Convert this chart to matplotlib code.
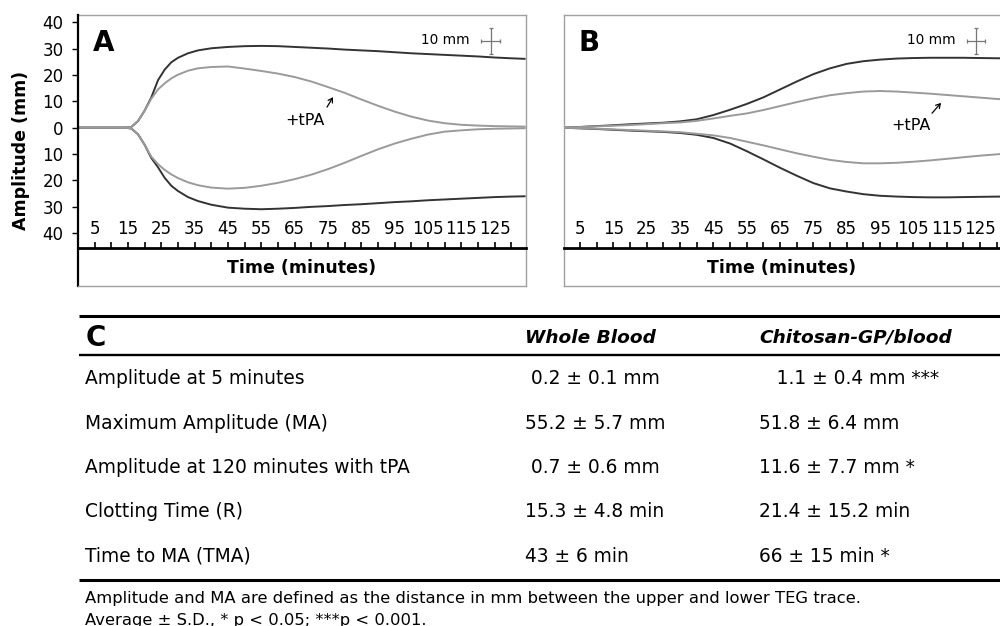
import matplotlib
matplotlib.use('Agg')
import matplotlib.pyplot as plt

# TEG traces, panel A (whole blood), time in minutes, amplitude in mm
time_a = [0, 14, 16, 18, 20, 22, 24, 26, 28, 30, 33, 36, 40, 45, 50, 55, 60, 65,
          70, 75, 80, 85, 90, 95, 100, 105, 110, 115, 120, 125, 130, 134]
wb_upper = [0, 0, 0.3, 2.5, 6.5, 11.5, 18, 22, 24.8, 26.5, 28.2, 29.3, 30.1, 30.6,
            30.9, 31.0, 30.9, 30.6, 30.3, 30.0, 29.6, 29.3, 29.0, 28.6, 28.2, 27.9,
            27.6, 27.3, 27.0, 26.6, 26.3, 26.1]
wb_lower = [0, 0, -0.3, -2.5, -6.5, -11.5, -15, -19, -22, -24, -26.3, -27.8, -29.2,
            -30.3, -30.7, -30.9, -30.7, -30.4, -30.0, -29.7, -29.3, -29.0, -28.6,
            -28.2, -27.9, -27.5, -27.2, -26.9, -26.6, -26.3, -26.1, -26.0]
wb_tpa_upper = [0, 0, 0.3, 2.5, 6.5, 11, 14.5, 16.8, 18.7, 20.1, 21.6, 22.5, 23.0,
                23.2, 22.4, 21.5, 20.5, 19.2, 17.5, 15.4, 13.2, 10.7, 8.3, 6.1, 4.2,
                2.7, 1.7, 1.1, 0.8, 0.6, 0.5, 0.4]
wb_tpa_lower = [0, 0, -0.3, -2.5, -6.5, -11, -13.8, -16, -17.7, -19.1, -20.7, -21.8,
                -22.7, -23.1, -22.8, -22.0, -20.9, -19.5, -17.8, -15.7, -13.3, -10.7,
                -8.2, -6.0, -4.2, -2.6, -1.5, -1.0, -0.6, -0.4, -0.3, -0.2]

# panel B (chitosan-GP/blood)
time_b = [0, 10, 20, 30, 35, 40, 45, 50, 55, 60, 65, 70, 75, 80, 85, 90, 95, 100,
          105, 110, 115, 120, 125, 131]
cgp_upper = [0, 0.6, 1.3, 1.9, 2.4, 3.2, 4.8, 6.8, 9.0, 11.5, 14.5, 17.5, 20.3, 22.5,
             24.2, 25.2, 25.8, 26.2, 26.4, 26.5, 26.5, 26.5, 26.4, 26.3]
cgp_lower = [0, -0.5, -1.1, -1.6, -2.0, -2.7, -3.9, -6.0, -8.9, -12.0, -15.2, -18.2,
             -21.0, -23.0, -24.2, -25.2, -25.8, -26.1, -26.3, -26.4, -26.4, -26.3,
             -26.2, -26.1]
cgp_tpa_upper = [0, 0.5, 1.0, 1.7, 2.0, 2.6, 3.5, 4.5, 5.4, 6.7, 8.2, 9.7, 11.1, 12.3,
                 13.1, 13.7, 13.9, 13.7, 13.3, 12.9, 12.4, 11.9, 11.4, 10.8]
cgp_tpa_lower = [0, -0.4, -0.9, -1.4, -1.7, -2.3, -2.9, -3.9, -5.3, -6.7, -8.2, -9.7,
                 -11.0, -12.2, -13.0, -13.5, -13.5, -13.3, -12.9, -12.4, -11.8, -11.2,
                 -10.6, -10.0]

ytick_pos = [40, 30, 20, 10, 0, -10, -20, -30, -40]
ytick_labels = ['40', '30', '20', '10', '0', '10', '20', '30', '40']
xtick_major = [5, 15, 25, 35, 45, 55, 65, 75, 85, 95, 105, 115, 125]
xtick_minor = [10, 20, 30, 40, 50, 60, 70, 80, 90, 100, 110, 120, 130]

# table C
col_headers = ['Whole Blood', 'Chitosan-GP/blood']
row_labels = ['Amplitude at 5 minutes', 'Maximum Amplitude (MA)',
              'Amplitude at 120 minutes with tPA', 'Clotting Time (R)',
              'Time to MA (TMA)']
wb_values = [' 0.2 ± 0.1 mm', '55.2 ± 5.7 mm', ' 0.7 ± 0.6 mm', '15.3 ± 4.8 min',
             '43 ± 6 min']
cgp_values = ['   1.1 ± 0.4 mm ***', '51.8 ± 6.4 mm', '11.6 ± 7.7 mm *',
              '21.4 ± 15.2 min', '66 ± 15 min *']
footnote = ['Amplitude and MA are defined as the distance in mm between the upper and lower TEG trace.',
            'Average ± S.D., * p < 0.05; ***p < 0.001.']

dark = '#333333'
light = '#9a9a9a'
frame = '#a0a0a0'

fig = plt.figure(figsize=(10, 6.26), dpi=100)

# table axes in pixel coordinates
axt = fig.add_axes([0, 0, 1, 1])
axt.set_xlim(0, 1000)
axt.set_ylim(626, 0)
axt.axis('off')


def teg_panel(rect, t, up, lo, tup, tlo, letter, xmax, tpa_xy, arrow_from, arrow_to, left_axis):
    ax = fig.add_axes(rect)
    ax.set_xlim(0, xmax)
    ax.set_ylim(-60, 42.7)
    ax.plot(t, up, color=dark, lw=1.4)
    ax.plot(t, lo, color=dark, lw=1.4)
    ax.plot(t, tup, color=light, lw=1.4)
    ax.plot(t, tlo, color=light, lw=1.4)

    # x axis drawn as the top spine moved down, ticks and labels above it
    ax.spines['top'].set_position(('data', -45.6))
    ax.spines['top'].set_color('black')
    ax.spines['top'].set_linewidth(2)
    ax.xaxis.set_ticks_position('top')
    ax.set_xticks(xtick_major)
    ax.set_xticks(xtick_minor, minor=True)
    ax.tick_params(axis='x', which='both', direction='out', length=4, width=1.2,
                   labelsize=12, pad=3)
    ax.plot([0, 1], [1, 1], transform=ax.transAxes, color=frame, lw=1, clip_on=False)
    ax.spines['bottom'].set_color(frame)
    ax.spines['bottom'].set_linewidth(1)
    ax.spines['right'].set_color(frame)
    ax.spines['right'].set_linewidth(1)
    if left_axis:
        ax.spines['left'].set_linewidth(1.6)
        ax.set_yticks(ytick_pos)
        ax.set_yticklabels(ytick_labels)
        ax.tick_params(axis='y', direction='out', length=4.5, width=1, labelsize=12, pad=6)
        ax.set_ylabel('Amplitude (mm)', fontsize=12.5, fontweight='bold', labelpad=9)
    else:
        ax.spines['left'].set_color(frame)
        ax.spines['left'].set_linewidth(1)
        ax.spines['right'].set_visible(False)
        ax.set_yticks([])

    ax.text(0.5, 0.066, 'Time (minutes)', transform=ax.transAxes, ha='center',
            va='center', fontsize=12.5, fontweight='bold')
    ax.text(7.8, 32.1, letter, ha='center', va='center', fontsize=20, fontweight='bold')

    # 10 mm scale cross
    ax.errorbar(123.8, 32.9, xerr=2.75, yerr=4.95, color='#777777', lw=0.9,
                capsize=1.5, capthick=0.9)
    ax.text(117.6, 33.4, '10 mm', ha='right', va='center', fontsize=9.8)

    ax.text(tpa_xy[0], tpa_xy[1], '+tPA', ha='center', va='center', fontsize=11.5)
    ax.annotate('', xy=arrow_to, xytext=arrow_from,
                arrowprops=dict(arrowstyle='->,head_length=0.3,head_width=0.18',
                                lw=0.9, color='black', shrinkA=0, shrinkB=0))
    return ax


teg_panel([0.078, 0.5431, 0.448, 0.4329], time_a, wb_upper, wb_lower, wb_tpa_upper,
          wb_tpa_lower, 'A', 134.4, (68.1, 2.9), (74.7, 7.8), (76.5, 11.6), True)
teg_panel([0.5635, 0.5431, 0.4365, 0.4329], time_b, cgp_upper, cgp_lower, cgp_tpa_upper,
          cgp_tpa_lower, 'B', 131.0, (104.3, 1.0), (110.6, 5.5), (113.3, 9.4), False)

# table C
axt.plot([79, 1000], [315.5, 315.5], color='black', lw=2.2, solid_capstyle='butt')
axt.plot([79, 1000], [354.5, 354.5], color='black', lw=1.7, solid_capstyle='butt')
axt.plot([79, 1000], [579.5, 579.5], color='black', lw=2.2, solid_capstyle='butt')
axt.text(86, 346, 'C', fontsize=20, fontweight='bold', va='baseline', ha='left')
axt.text(525, 343, col_headers[0], fontsize=13.3, fontweight='bold', fontstyle='italic',
         va='baseline', ha='left')
axt.text(759, 343, col_headers[1], fontsize=13.3, fontweight='bold', fontstyle='italic',
         va='baseline', ha='left')
for i in range(len(row_labels)):
    yb = 384.5 + 44.3 * i
    axt.text(85, yb, row_labels[i], fontsize=13.4, va='baseline', ha='left')
    axt.text(525, yb, wb_values[i], fontsize=13.4, va='baseline', ha='left')
    axt.text(759, yb, cgp_values[i], fontsize=13.4, va='baseline', ha='left')
axt.text(85, 603.5, footnote[0], fontsize=11.8, va='baseline', ha='left')
axt.text(85, 624.5, footnote[1], fontsize=11.8, va='baseline', ha='left')

fig.savefig('out.png', dpi=100)
